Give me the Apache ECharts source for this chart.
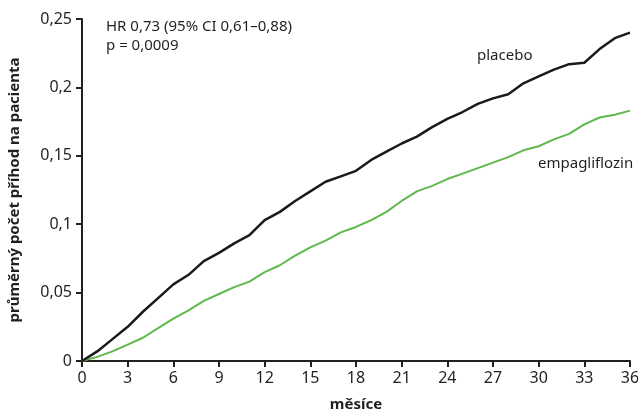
<!DOCTYPE html>
<html>
<head>
    <meta charset="UTF-8">
    <title>Empagliflozin vs placebo</title>
    <script type="text/javascript" src="https://cdn.jsdelivr.net/npm/echarts@6/dist/echarts.min.js"></script>
    <style>
        html, body { margin: 0; padding: 0; background: #fff; }
        #chart { width: 638px; height: 410px; }
    </style>
</head>
<body>
<div id="chart"></div>
<script type="text/javascript">
    // měsíce 0..36
    var months = [0, 1, 2, 3, 4, 5, 6, 7, 8, 9, 10, 11, 12, 13, 14, 15, 16, 17, 18,
        19, 20, 21, 22, 23, 24, 25, 26, 27, 28, 29, 30, 31, 32, 33, 34, 35, 36];
    // průměrný počet příhod na pacienta
    var placebo = [0, 0.007, 0.016, 0.025, 0.036, 0.046, 0.056, 0.063, 0.073, 0.079,
        0.086, 0.092, 0.103, 0.109, 0.117, 0.124, 0.131, 0.135, 0.139, 0.147,
        0.153, 0.159, 0.164, 0.171, 0.177, 0.182, 0.188, 0.192, 0.195, 0.203,
        0.208, 0.213, 0.217, 0.218, 0.228, 0.236, 0.240];
    var empagliflozin = [0, 0.003, 0.007, 0.012, 0.017, 0.024, 0.031, 0.037, 0.044, 0.049,
        0.054, 0.058, 0.065, 0.070, 0.077, 0.083, 0.088, 0.094, 0.098, 0.103,
        0.109, 0.117, 0.124, 0.128, 0.133, 0.137, 0.141, 0.145, 0.149, 0.154,
        0.157, 0.162, 0.166, 0.173, 0.178, 0.180, 0.183];
    var xTicks = [0, 3, 6, 9, 12, 15, 18, 21, 24, 27, 30, 33, 36];
    var yTicks = [0, 0.05, 0.1, 0.15, 0.2, 0.25];

    function pairs(vals) {
        return months.map(function (m, i) { return [m, vals[i]]; });
    }

    var font = '"Noto Sans", "Open Sans", sans-serif';
    var txt = '#231f20';

    var myChart = echarts.init(document.getElementById('chart'));
    var option = {
        animation: false,
        grid: { left: 82, right: 8, top: 19, bottom: 49, outerBoundsMode: 'none' },
        xAxis: {
            type: 'value',
            min: xTicks[0],
            max: xTicks[xTicks.length - 1],
            interval: 3,
            name: 'měsíce',
            nameLocation: 'middle',
            nameGap: 36,
            nameTextStyle: { fontFamily: font, fontWeight: 'bold', fontSize: 15, color: txt },
            axisLine: { lineStyle: { color: '#231f20', width: 2 } },
            axisTick: { length: 6, lineStyle: { color: '#231f20', width: 2 } },
            axisLabel: { fontFamily: font, fontSize: 16, color: txt, margin: 9 },
            splitLine: { show: false }
        },
        yAxis: {
            type: 'value',
            min: yTicks[0],
            max: yTicks[yTicks.length - 1],
            interval: 0.05,
            name: 'průměrný počet příhod na pacienta',
            nameLocation: 'middle',
            nameGap: 60,
            nameTextStyle: { fontFamily: font, fontWeight: 'bold', fontSize: 15, color: txt },
            axisLine: { show: true, lineStyle: { color: '#231f20', width: 2 } },
            axisTick: { show: true, length: 6, lineStyle: { color: '#231f20', width: 2 } },
            axisLabel: {
                fontFamily: font, fontSize: 16, color: txt, margin: 10,
                formatter: function (v) { return String(+v.toFixed(2)).replace('.', ','); }
            },
            splitLine: { show: false }
        },
        series: [
            {
                name: 'placebo',
                type: 'line',
                data: pairs(placebo),
                showSymbol: false,
                lineStyle: { color: '#1a1a1a', width: 2.5 },
                z: 3
            },
            {
                name: 'empagliflozin',
                type: 'line',
                data: pairs(empagliflozin),
                showSymbol: false,
                lineStyle: { color: '#5fb84c', width: 2 },
                z: 2
            }
        ],
        graphic: [
            { type: 'text', left: 106, top: 19, style: { text: 'HR 0,73 (95% CI 0,61–0,88)', font: '15px ' + font, fill: txt } },
            { type: 'text', left: 106, top: 38, style: { text: 'p = 0,0009', font: '15px ' + font, fill: txt } },
            { type: 'text', left: 477, top: 48, style: { text: 'placebo', font: '15px ' + font, fill: txt } },
            { type: 'text', left: 538, top: 156, style: { text: 'empagliflozin', font: '15px ' + font, fill: txt } }
        ]
    };
    myChart.setOption(option);
</script>
</body>
</html>
